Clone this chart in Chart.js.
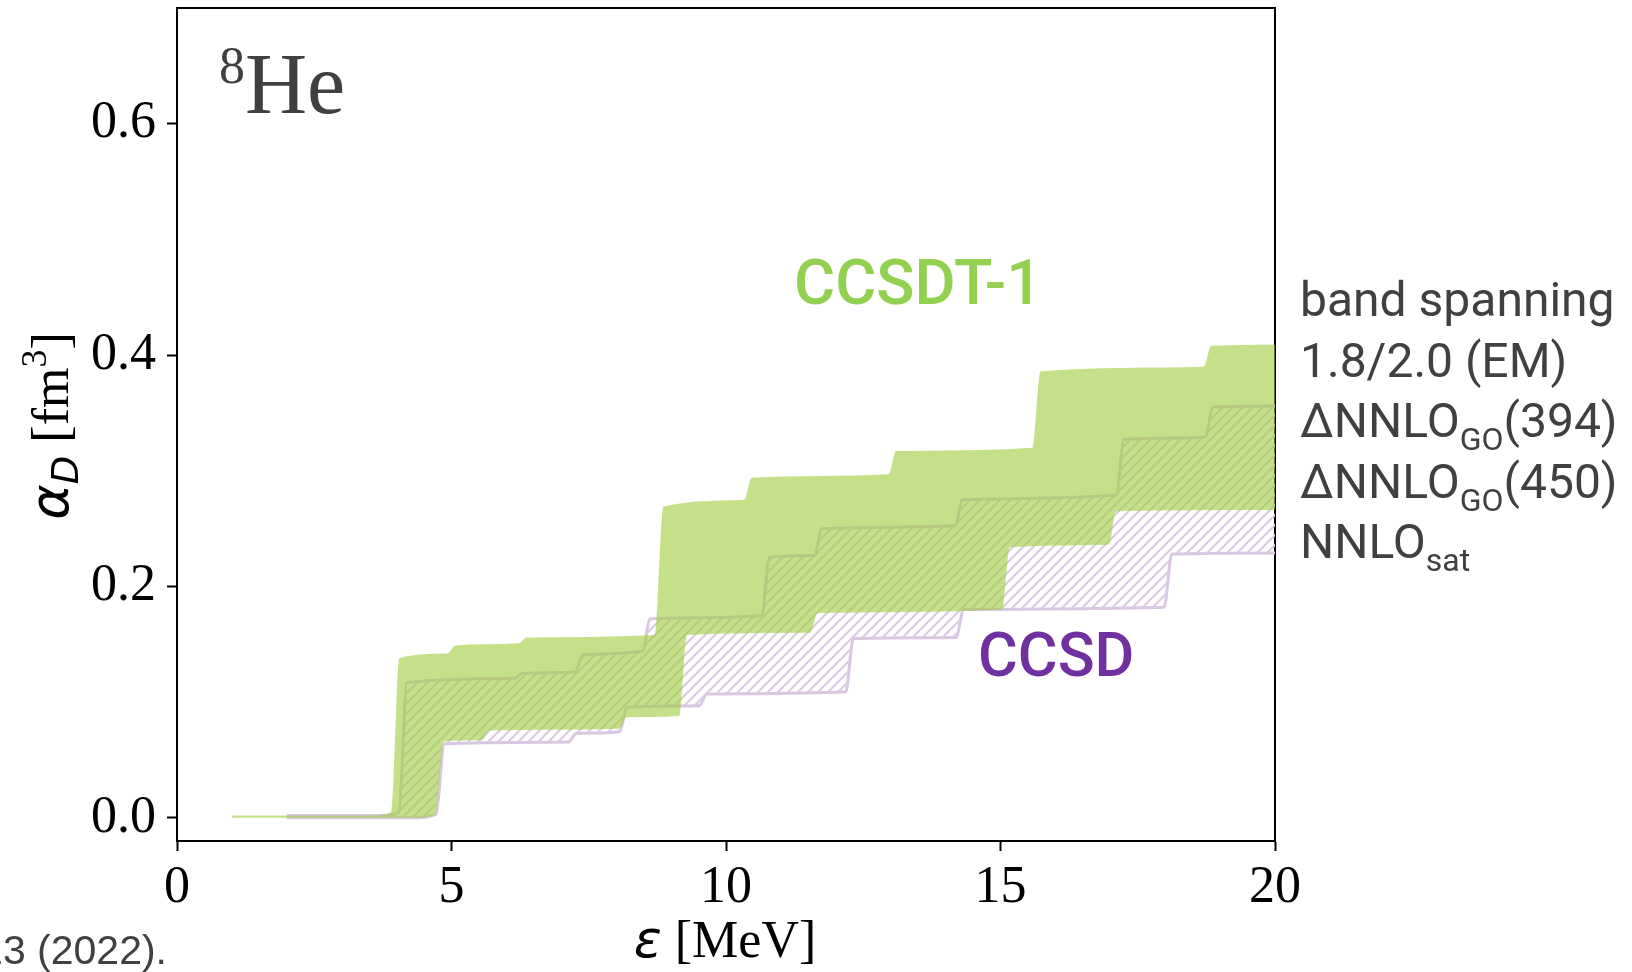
<!DOCTYPE html>
<html>
<head>
<meta charset="utf-8">
<script src="https://cdn.jsdelivr.net/npm/chart.js@4.4.1/dist/chart.umd.min.js"></script>
<style>
  html, body { margin: 0; padding: 0; background: #fff; }
  canvas { display: block; }
</style>
</head>
<body>
<canvas id="chart" width="1632" height="972"></canvas>
<script>
// Running dipole polarizability of 8He (fm^3) versus excitation energy (MeV).
// Each band edge is a staircase: every rise is given by the two vertices
// at its foot and its top.

// CCSDT-1 band
const ccsdt1UpperE = [1.0, 3.6, 3.9, 4.05, 4.93, 5.07, 6.23, 6.37, 8.7, 8.86, 10.33, 10.47, 12.96, 13.1, 15.58, 15.73, 18.7, 18.84, 20.0];
const ccsdt1UpperA = [0.002, 0.002, 0.005, 0.138, 0.142, 0.149, 0.151, 0.156, 0.158, 0.269, 0.275, 0.294, 0.297, 0.317, 0.320, 0.386, 0.390, 0.408, 0.409];
const ccsdt1LowerE = [1.0, 4.3, 4.71, 4.86, 5.55, 5.69, 8.05, 8.19, 9.15, 9.29, 11.53, 11.67, 15.03, 15.17, 16.97, 17.11, 20.0];
const ccsdt1LowerA = [0.000, 0.000, 0.003, 0.066, 0.067, 0.0755, 0.077, 0.087, 0.088, 0.158, 0.160, 0.177, 0.180, 0.234, 0.236, 0.265, 0.266];

// CCSD band
const ccsdUpperE = [2.0, 3.7, 4.04, 4.19, 6.15, 6.29, 7.25, 7.39, 8.48, 8.62, 10.65, 10.79, 11.61, 11.75, 14.17, 14.31, 17.11, 17.25, 18.73, 18.87, 20.0];
const ccsdUpperA = [0.002, 0.002, 0.005, 0.117, 0.1205, 0.125, 0.126, 0.141, 0.144, 0.172, 0.175, 0.225, 0.227, 0.250, 0.2525, 0.275, 0.279, 0.327, 0.329, 0.355, 0.356];
const ccsdLowerE = [2.0, 4.3, 4.72, 4.87, 7.13, 7.27, 8.06, 8.2, 9.51, 9.65, 12.18, 12.32, 14.19, 14.33, 17.98, 18.12, 20.0];
const ccsdLowerA = [0.000, 0.000, 0.003, 0.064, 0.0655, 0.073, 0.0745, 0.0957, 0.097, 0.107, 0.109, 0.155, 0.156, 0.180, 0.182, 0.228, 0.229];

// Axis ticks
const energyTicks = [0, 5, 10, 15, 20];
const alphaTicks = [0.0, 0.2, 0.4, 0.6];

// Text
const nucleusMass = '8';
const nucleusName = 'He';
const ccsdt1Label = 'CCSDT-1';
const ccsdLabel = 'CCSD';
const bandNotes = ['band spanning', '1.8/2.0 (EM)', 'ΔNNLO_{GO}(394)', 'ΔNNLO_{GO}(450)', 'NNLO_{sat}'];
const citation = 'Phys. Rev. C 105, 034313 (2022).';

const toPoints = (xs, ys) => xs.map((x, i) => ({ x, y: ys[i] }));

function diagonalHatch(color, size, width) {
  const tile = document.createElement('canvas');
  tile.width = tile.height = size;
  const g = tile.getContext('2d');
  g.strokeStyle = color;
  g.lineWidth = width;
  g.beginPath();
  g.moveTo(-2, size + 2); g.lineTo(size + 2, -2);
  g.moveTo(-2, 2); g.lineTo(2, -2);
  g.moveTo(size - 2, size + 2); g.lineTo(size + 2, size - 2);
  g.stroke();
  return g.createPattern(tile, 'repeat');
}

const GREEN_FILL = 'rgba(157, 205, 60, 0.6)';
const CCSD_EDGE = '#d9c6e1';
const ccsdHatch = diagonalHatch('#dccbe4', 10, 2.2);

const bandEdge = { pointRadius: 0, pointHoverRadius: 0, cubicInterpolationMode: 'monotone' };

const SERIF = '"Liberation Serif", "Times New Roman", serif';
const SANS = '"Liberation Sans", Arial, sans-serif';
const MATH = '"DejaVu Sans", sans-serif';

function runsWidth(g, runs) {
  let w = 0;
  for (const r of runs) { g.font = r.font; w += g.measureText(r.t).width; }
  return w;
}
function drawRuns(g, x, y, runs) {
  for (const r of runs) {
    g.font = r.font;
    g.fillText(r.t, x, y + (r.dy || 0));
    x += g.measureText(r.t).width;
  }
}
function noteRuns(line, size) {
  const runs = [];
  const re = /_\{([^}]*)\}/g;
  let last = 0, m;
  while ((m = re.exec(line)) !== null) {
    if (m.index > last) runs.push({ t: line.slice(last, m.index), font: size + 'px Roboto' });
    runs.push({ t: m[1], font: Math.round(size * 0.66) + 'px Roboto', dy: 13 });
    last = re.lastIndex;
  }
  if (last < line.length) runs.push({ t: line.slice(last), font: size + 'px Roboto' });
  return runs;
}

const textPlugin = {
  id: 'figureText',
  afterDraw(chart) {
    const g = chart.ctx;
    g.save();
    g.textBaseline = 'alphabetic';
    g.textAlign = 'left';

    // nucleus tag
    g.fillStyle = '#404040';
    g.font = '52px ' + SERIF;
    g.fillText(nucleusMass, 219, 83);
    g.font = '86px ' + SERIF;
    g.fillText(nucleusName, 245, 113);

    // band labels
    g.fillStyle = '#92d050';
    g.font = '500 63px Roboto';
    g.fillText(ccsdt1Label, 794, 304);
    g.fillStyle = '#7030a0';
    g.font = '500 61px Roboto';
    g.fillText(ccsdLabel, 978, 676);

    // interaction list
    g.fillStyle = '#404040';
    bandNotes.forEach((line, i) => drawRuns(g, 1300, 316 + i * 60.5, noteRuns(line, 48)));

    // x title
    g.fillStyle = '#000';
    const xRuns = [
      { t: 'ε', font: 'italic 52px ' + MATH },
      { t: ' [MeV]', font: '52px ' + SERIF }
    ];
    const xw = runsWidth(g, xRuns);
    drawRuns(g, 725 - xw / 2, 957, xRuns);

    // y title
    const yRuns = [
      { t: 'α', font: 'italic 54px ' + MATH },
      { t: 'D', font: 'italic 37px ' + MATH, dy: 10 },
      { t: ' [fm', font: '52px ' + SERIF },
      { t: '3', font: '36px ' + SERIF, dy: -22 },
      { t: ']', font: '52px ' + SERIF }
    ];
    const yw = runsWidth(g, yRuns);
    g.save();
    g.translate(68, 426);
    g.rotate(-Math.PI / 2);
    drawRuns(g, -yw / 2, 0, yRuns);
    g.restore();

    // reference line, running off the left edge
    g.fillStyle = '#404040';
    g.font = '41px ' + SANS;
    g.textAlign = 'right';
    g.fillText(citation, 167, 964);

    g.restore();
  }
};

const tickFont = { family: SERIF, size: 52 };
const tickGrid = { display: true, drawOnChartArea: false, drawTicks: true, tickLength: 10, tickWidth: 2, tickColor: '#000' };
const frame = { display: true, color: '#000', width: 2 };

// keep the plot box fixed: no extra room for labels that overhang the axes
const noOverhang = s => { s.paddingTop = 0; s.paddingBottom = 0; s.paddingLeft = 0; s.paddingRight = 0; };

new Chart(document.getElementById('chart'), {
  type: 'line',
  data: {
    datasets: [
      { label: 'CCSDT-1 upper', data: toPoints(ccsdt1UpperE, ccsdt1UpperA), fill: '+1',
        backgroundColor: GREEN_FILL, borderColor: GREEN_FILL, borderWidth: 0, order: 0, ...bandEdge },
      { label: 'CCSDT-1 lower', data: toPoints(ccsdt1LowerE, ccsdt1LowerA), fill: false,
        backgroundColor: GREEN_FILL, borderColor: GREEN_FILL, borderWidth: 0, order: 1, ...bandEdge },
      { label: 'CCSD upper', data: toPoints(ccsdUpperE, ccsdUpperA), fill: '+1',
        backgroundColor: ccsdHatch, borderColor: CCSD_EDGE, borderWidth: 3, order: 2, ...bandEdge },
      { label: 'CCSD lower', data: toPoints(ccsdLowerE, ccsdLowerA), fill: false,
        backgroundColor: ccsdHatch, borderColor: CCSD_EDGE, borderWidth: 3, order: 3, ...bandEdge }
    ]
  },
  options: {
    responsive: false,
    devicePixelRatio: 1,
    animation: false,
    events: [],
    layout: { padding: { left: 0, right: 357, top: 8, bottom: 0 } },
    plugins: { legend: { display: false }, tooltip: { enabled: false } },
    scales: {
      x: {
        type: 'linear', position: 'bottom', min: 0, max: 20,
        afterBuildTicks: s => { s.ticks = energyTicks.map(v => ({ value: v })); },
        afterFit: s => { s.height = 131; noOverhang(s); },
        ticks: { font: tickFont, color: '#000', padding: 6, maxRotation: 0, autoSkip: false, callback: v => String(v) },
        grid: tickGrid, border: frame
      },
      y: {
        type: 'linear', position: 'left', min: -0.02, max: 0.7,
        afterBuildTicks: s => { s.ticks = alphaTicks.map(v => ({ value: v })); },
        afterFit: s => { s.width = 177; noOverhang(s); },
        ticks: { font: tickFont, color: '#000', padding: 11, autoSkip: false, callback: v => v.toFixed(1) },
        grid: tickGrid, border: frame
      },
      xTop: {
        type: 'linear', position: 'top', min: 0, max: 20,
        afterFit: s => { s.height = 0; noOverhang(s); },
        ticks: { display: false }, grid: { display: false, drawTicks: false }, border: frame
      },
      yRight: {
        type: 'linear', position: 'right', min: -0.02, max: 0.7,
        afterFit: s => { s.width = 0; noOverhang(s); },
        ticks: { display: false }, grid: { display: false, drawTicks: false }, border: frame
      }
    }
  },
  plugins: [textPlugin]
});
</script>
</body>
</html>
